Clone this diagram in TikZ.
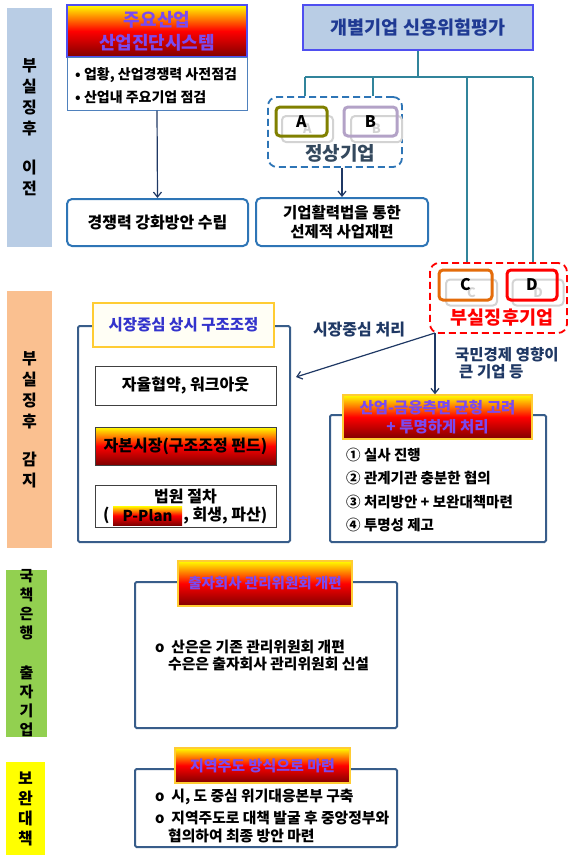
\documentclass[tikz,border=0pt]{standalone}
\usepackage{fontspec}
\setmainfont{Noto Sans CJK KR}
\usetikzlibrary{arrows.meta,positioning}

\definecolor{barblue}{HTML}{B9CDE5}
\definecolor{barpeach}{HTML}{FAC090}
\definecolor{bargreen}{HTML}{92D050}
\definecolor{baryellow}{HTML}{FFFF00}
\definecolor{darkred}{HTML}{7F0000}
\definecolor{gradtext}{HTML}{7A4AF0}
\definecolor{goldline}{HTML}{FFCC33}
\definecolor{sysblue}{HTML}{4F4FF0}
\definecolor{chkline}{HTML}{4F81BD}
\definecolor{roundline}{HTML}{2E75B6}
\definecolor{treeline}{HTML}{31849B}
\definecolor{evaltext}{HTML}{1F3A93}
\definecolor{arrowc}{HTML}{1F3864}
\definecolor{secline}{HTML}{385D8A}
\definecolor{olive}{HTML}{808000}
\definecolor{lavender}{HTML}{B3A2C7}
\definecolor{orangec}{HTML}{E46C0A}
\definecolor{ghost}{HTML}{D3D3D3}
\definecolor{normtext}{HTML}{34495E}
\definecolor{ttltext}{HTML}{3333CC}

\tikzset{
  sidebar/.style={rectangle, inner sep=0pt, align=center,
    font=\bfseries\fontsize{16}{21}\selectfont},
  grad/.style={top color=yellow, bottom color=darkred, middle color=red,
    draw=goldline, line width=1.5pt, text=gradtext, align=center},
  roundbox/.style={draw=roundline, line width=2pt, rounded corners=5pt, align=center},
  secbox/.style={draw=secline, line width=2pt, rounded corners=1.5pt, fill=white},
  innerbox/.style={draw=black!75, line width=0.8pt, minimum width=181pt},
  letterbox/.style={line width=3pt, rounded corners=4pt, minimum width=51pt, minimum height=29pt,
    font=\bfseries\fontsize{16}{18}\selectfont},
  ghostbox/.style={draw=ghost, line width=2pt, rounded corners=4pt, minimum width=51pt, minimum height=26pt,
    text=ghost, font=\bfseries\fontsize{13}{15}\selectfont},
  arr/.style={draw=arrowc, line width=1.2pt, -{Straight Barb[length=5pt,width=8pt]}},
  tree/.style={draw=treeline, line width=1.8pt},
  fs/.style={font=\bfseries\fontsize{#1}{#1}\selectfont}
}

\begin{document}
\begin{tikzpicture}[x=1pt, y=-1pt,
    every node/.style={inner sep=0pt, font=\bfseries\fontsize{14.5}{17}\selectfont}]

  \useasboundingbox (0,0) rectangle (582,860);

  % side bars
  \node[sidebar, fill=barblue, minimum width=45pt, minimum height=239pt] (bar1) at (29.5,127.5)
    {부\\실\\징\\후\\[18pt]이\\전};
  \node[sidebar, fill=barpeach, minimum width=45pt, minimum height=257pt] (bar2) at (29.5,419.5)
    {부\\실\\징\\후\\[17pt]감\\지};
  \node[sidebar, fill=bargreen, minimum width=41pt, minimum height=167pt,
        font=\bfseries\fontsize{15}{19}\selectfont] (bar3) at (26.5,653.5)
    {국\\책\\은\\행\\[21pt]출\\자\\기\\업};
  \node[sidebar, fill=baryellow, minimum width=39pt, minimum height=93pt,
        font=\bfseries\fontsize{16}{20}\selectfont] (bar4) at (25.5,808.5)
    {보\\완\\대\\책};

  % industry diagnosis
  \node[grad, draw=sysblue, line width=2pt, minimum width=180pt, minimum height=52pt,
        font=\bfseries\fontsize{18}{23}\selectfont] (sys) at (157,31) {주요산업\\산업진단시스템};
  \node[draw=chkline, line width=1pt, minimum width=180pt, minimum height=53pt] (chk) at (157,83.5) {};
  \node[anchor=west, fs=14] (chk1) at (75,75) {• 업황, 산업경쟁력 사전점검};
  \node[anchor=west, fs=14] (chk2) at (75,97) {• 산업내 주요기업 점검};
  \node[roundbox, fs=16, minimum width=181pt, minimum height=47pt] (comp) at (157.5,222.5) {경쟁력 강화방안 수립};
  \draw[arr] (chk.south) -- (comp.north);

  % credit risk evaluation
  \node[draw=sysblue, fill=barblue, line width=1.5pt, minimum width=230pt, minimum height=45pt,
        text=evaltext, fs=18.5] (eval) at (418,27.5) {개별기업 신용위험평가};

  % normal companies
  \node[draw=roundline, dashed, dash pattern=on 7pt off 4pt, line width=1.8pt, rounded corners=9pt,
        minimum width=134pt, minimum height=70pt] (grpN) at (335,132) {};
  \node[ghostbox] (ga) at (307.5,129) {A};
  \node[ghostbox] (gb) at (376.5,129) {B};
  \node[letterbox, draw=olive] (a) at (301.5,121.5) {A};
  \node[letterbox, draw=lavender, minimum width=53pt] (b) at (370.5,121.5) {B};
  \node[text=normtext, fs=19] (normal) at (340,153) {정상기업};
  \node[roundbox, font=\bfseries\fontsize{15.5}{19}\selectfont, minimum width=172pt, minimum height=48pt]
    (reorg) at (342,222) {기업활력법을 통한\\선제적 사업재편};
  \draw[arr] (reorg.north |- grpN.south) -- (reorg.north);

  % insolvent companies
  \node[draw=red, dashed, dash pattern=on 7pt off 4pt, line width=1.8pt, rounded corners=9pt,
        minimum width=137pt, minimum height=70pt] (grpD) at (498.5,298) {};
  \node[ghostbox] (gc) at (471.5,292.5) {C};
  \node[ghostbox] (gd) at (538,292.5) {D};
  \node[letterbox, draw=orangec, minimum width=53pt, minimum height=30pt] (c) at (465.5,285) {C};
  \node[letterbox, draw=red, minimum width=50pt, minimum height=30pt] (d) at (532,285) {D};
  \node[text=red, fs=18.5] (weak) at (502,318) {부실징후기업};

  % tree
  \draw[tree] (eval.south) -- (418,77) coordinate (jn);
  \draw[tree] (305,77) -- (533,77);
  \foreach \x/\g in {305/grpN, 373/grpN, 467/grpD, 533/grpD}
    \draw[tree] (\x,77) -- (\x,0 |- \g.north);

  % market-led restructuring
  \node[secbox, minimum width=212pt, minimum height=216pt] (mkt) at (184,434) {};
  \node[draw=goldline, fill=yellow!4, line width=2pt, minimum width=181pt, minimum height=44pt,
        text=ttltext, fs=15.5] (mktttl) at (183.5,325) {시장중심 상시 구조조정};
  \node[innerbox, fs=16, minimum height=39pt] (in1) at (185.5,385.5) {자율협약, 워크아웃};
  \node[grad, draw=black!75, line width=0.8pt, text=black, fs=16, minimum width=181pt, minimum height=38pt]
    (in2) at (185.5,446) {자본시장(구조조정 펀드)};
  \node[innerbox, minimum height=42pt] (in3) at (185.5,506) {};
  \node[fs=16] (court) at (185.5,497) {법원 절차};
  \node[top color=yellow, bottom color=darkred, middle color=red, minimum width=69pt, minimum height=19pt,
        fs=15] (pplan) at (147.5,515.5) {P-Plan};
  \node[left=3pt of pplan, fs=16] (lp) {(};
  \node[right=1pt of pplan, fs=16] (rest) {, 회생, 파산)};

  % balanced handling
  \node[secbox, minimum width=216pt, minimum height=127pt] (rbox) at (438,478.5) {};
  \node[grad, minimum width=189pt, minimum height=44pt,
        font=\bfseries\fontsize{15.5}{19}\selectfont] (rttl) at (437.5,417) {산업-금융측면 균형 고려\\+ 투명하게 처리};
  \node[anchor=west] (r1) at (346,455) {① 실사 진행};
  \node[anchor=west] (r2) at (346,478) {② 관계기관 충분한 협의};
  \node[anchor=west] (r3) at (346,502) {③ 처리방안 + 보완대책마련};
  \node[anchor=west] (r4) at (346,525) {④ 투명성 제고};

  % arrows from insolvent group
  \coordinate (src) at (435,333);
  \draw[arr] (src) -- (296,377);
  \draw[arr] (src) -- (src |- rttl.north);
  \node[text=arrowc, fs=16] (lblm) at (359,330) {시장중심 처리};
  \node[text=arrowc, anchor=west, align=left, font=\bfseries\fontsize{15.5}{17}\selectfont]
    (lbln) at (455,363) {국민경제 영향이\\\hspace*{4pt}큰 기업 등};

  % state-owned banks
  \node[secbox, minimum width=262pt, minimum height=146pt] (sec3) at (266,655) {};
  \node[grad, minimum width=174pt, minimum height=45pt] (ttl3) at (265,583.5) {출자회사 관리위원회 개편};
  \node[anchor=west, fs=14.8] (s1) at (155,647) {o\ \ 산은은 기존 관리위원회 개편};
  \node[anchor=west, fs=14.8] (s2) at (168,664) {수은은 출자회사 관리위원회 신설};

  % supplementary measures
  \node[secbox, minimum width=262pt, minimum height=78pt] (sec4) at (266,808) {};
  \node[grad, fs=15, minimum width=175pt, minimum height=35pt] (ttl4) at (262.5,765.5) {지역주도 방식으로 마련};
  \node[anchor=west, fs=14.8] (t1) at (155,797) {o\ \ 시, 도 중심 위기대응본부 구축};
  \node[anchor=west, fs=14.8] (t2) at (155,818) {o\ \ 지역주도로 대책 발굴 후 중앙정부와};
  \node[anchor=west, fs=14.8] (t3) at (168,836) {협의하여 최종 방안 마련};

\end{tikzpicture}
\end{document}
